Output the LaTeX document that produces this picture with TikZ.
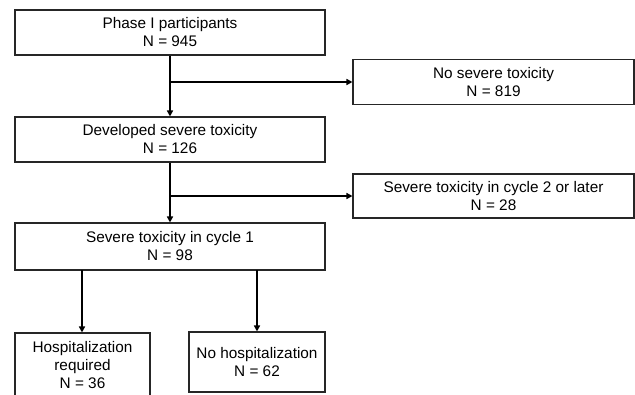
\documentclass[tikz,border=0pt]{standalone}
\usepackage{fontspec}
\setmainfont{Liberation Sans}
\usetikzlibrary{arrows.meta}
\begin{document}
\begin{tikzpicture}[x=0.75pt,y=-0.75pt,
  box/.style={draw=black!85,line width=0.8pt,align=center,inner sep=0pt,
    font=\fontsize{11.5}{13.5}\selectfont},
  conn/.style={line width=1.4pt,-{Triangle[length=4.5pt,width=4.5pt]}}]
\useasboundingbox (0,0) rectangle (635,394);
\node[box,minimum width=310*0.75pt,minimum height=45*0.75pt] (p1) at (170,32.5) {Phase I participants\\N = 945};
\node[box,minimum width=281*0.75pt,minimum height=45*0.75pt] (ns) at (493.5,82) {No severe toxicity\\N = 819};
\node[box,minimum width=310*0.75pt,minimum height=45*0.75pt] (dev) at (170,139.5) {Developed severe toxicity\\N = 126};
\node[box,minimum width=281*0.75pt,minimum height=44*0.75pt] (c2) at (493.5,196) {Severe toxicity in cycle 2 or later\\N = 28};
\node[box,minimum width=310*0.75pt,minimum height=47*0.75pt] (c1) at (170,246.5) {Severe toxicity in cycle 1\\N = 98};
\node[box,minimum width=135*0.75pt,minimum height=64*0.75pt] (hosp) at (82.5,365) {Hospitalization\\required\\N = 36};
\node[box,minimum width=136*0.75pt,minimum height=60*0.75pt] (nohosp) at (257,362) {No hospitalization\\N = 62};
\coordinate (b1) at (170,82);
\coordinate (b2) at (170,196);
\coordinate (h1) at (82,270);
\coordinate (h2) at (257,270);
\draw[conn] (p1.south) -- (dev.north);
\draw[conn] (b1) -- (ns.west);
\draw[conn] (dev.south) -- (c1.north);
\draw[conn] (b2) -- (c2.west);
\draw[conn] (h1) -- (h1 |- hosp.north);
\draw[conn] (h2) -- (nohosp.north);
\end{tikzpicture}
\end{document}
